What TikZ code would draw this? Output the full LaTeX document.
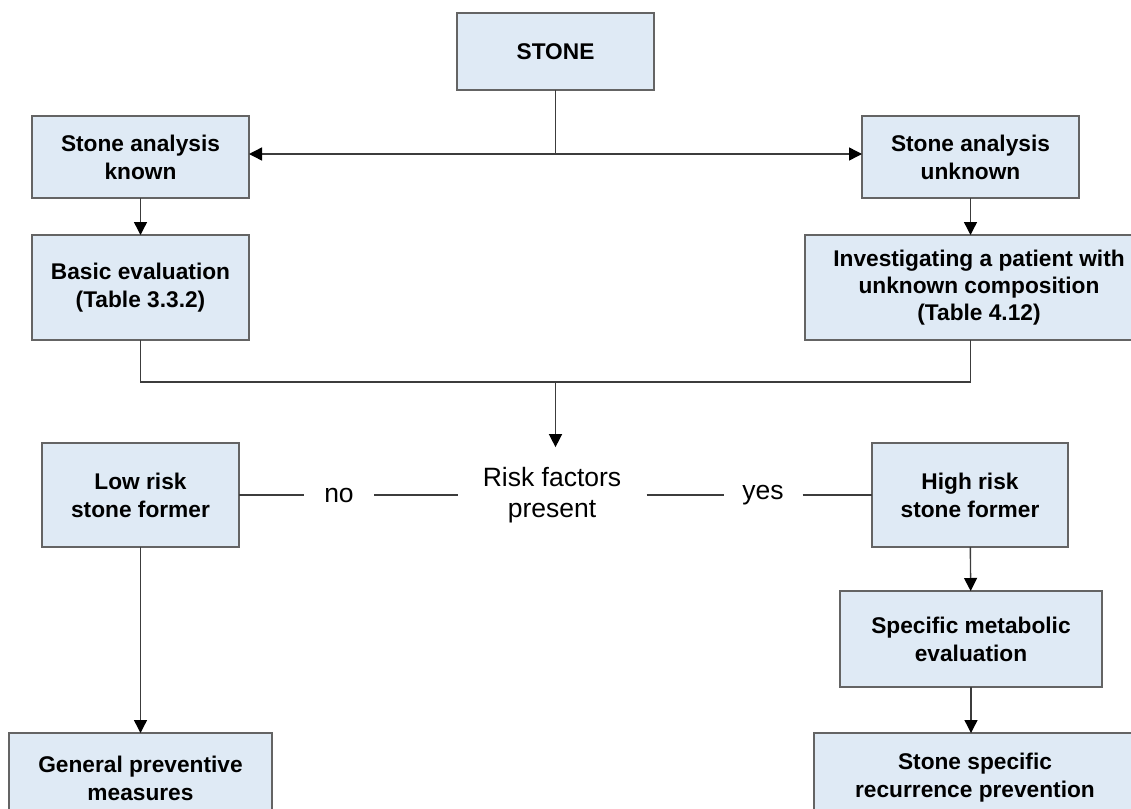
\documentclass[tikz,border=0pt]{standalone}
\usepackage{fontspec}
\setmainfont{Liberation Sans}
\usetikzlibrary{arrows.meta}
\definecolor{boxfill}{RGB}{223,234,245}
\definecolor{boxline}{RGB}{100,100,100}
\definecolor{wire}{RGB}{60,60,60}
\begin{document}
\begin{tikzpicture}[x=0.5pt,y=-0.5pt,
	box/.style={draw=boxline, line width=0.6pt, fill=boxfill, align=center, inner sep=0pt, outer sep=0pt, font=\fontsize{11.35}{14}\selectfont\bfseries},
	plain/.style={align=center, inner xsep=0pt, outer sep=0pt, font=\fontsize{13.25}{15.5}\selectfont},
	link/.style={draw=wire, line width=0.7pt},
	arrow/.style={link, -{Triangle[width=6.5pt,length=6.5pt,color=black]}}]
	\useasboundingbox (0,0) rectangle (1131,809);
	\node[box, minimum width=98.5pt, minimum height=38.5pt] (stone) at (555.5, 51.5) {STONE};
	\node[box, minimum width=108.5pt, minimum height=41pt] (known) at (140.5, 157) {Stone analysis\\known};
	\node[box, minimum width=108.5pt, minimum height=41pt] (unknown) at (970.5, 157) {Stone analysis\\unknown};
	\node[box, minimum width=108.5pt, minimum height=52.5pt] (basic) at (140.5, 287.5) {Basic evaluation\\(Table 3.3.2)};
	\node[box, minimum width=174pt, minimum height=52.5pt, font=\fontsize{11.35}{13.5}\selectfont\bfseries] (invest) at (979, 287.5) {Investigating a patient with\\unknown composition\\(Table 4.12)};
	\node[box, minimum width=98.5pt, minimum height=52pt] (low) at (140.5, 495) {Low risk\\stone former};
	\node[box, minimum width=98pt, minimum height=52pt] (high) at (970, 495) {High risk\\stone former};
	\node[box, minimum width=131pt, minimum height=48pt] (metab) at (971, 639) {Specific metabolic\\evaluation};
	\node[box, minimum width=161pt, minimum height=45pt] (prevent) at (975, 778) {Stone specific\\recurrence prevention};
	\node[box, minimum width=131.5pt, minimum height=45pt] (general) at (140.5, 778) {General preventive\\measures};
	\node[plain, minimum width=94.5pt, inner ysep=10pt] (risk) at (552, 495) {Risk factors\\present};
	\node[plain, minimum width=35pt] (no) at (339, 495) {no};
	\node[plain, minimum width=39.5pt] (yes) at (763, 495) {yes};
	\coordinate (split) at (555.5, 154);
	\coordinate (join) at (555.5, 382);
	 \draw[link] (stone) -- (split);
	 \draw[arrow] (split) -- (split -| known.east);
	 \draw[arrow] (split) -- (split -| unknown.west);
	 \draw[arrow] (known) -- (basic);
	 \draw[arrow] (unknown.south) -- (unknown.south |- invest.north);
	 \draw[link] (basic.south) |- (join) -| (unknown.south |- invest.south);
	 \draw[arrow] (join) -- (join |- risk.north);
	 \draw[link] (low.east) -- (no.west);
	 \draw[link] (no.east) -- (risk.west);
	 \draw[link] (risk.east) -- (yes.west);
	 \draw[link] (yes.east) -- (high.west);
	 \draw[arrow] (high) -- (metab);
	 \draw[arrow] (metab) -- (metab.south |- prevent.north);
	 \draw[arrow] (low) -- (general);
\end{tikzpicture}
\end{document}
